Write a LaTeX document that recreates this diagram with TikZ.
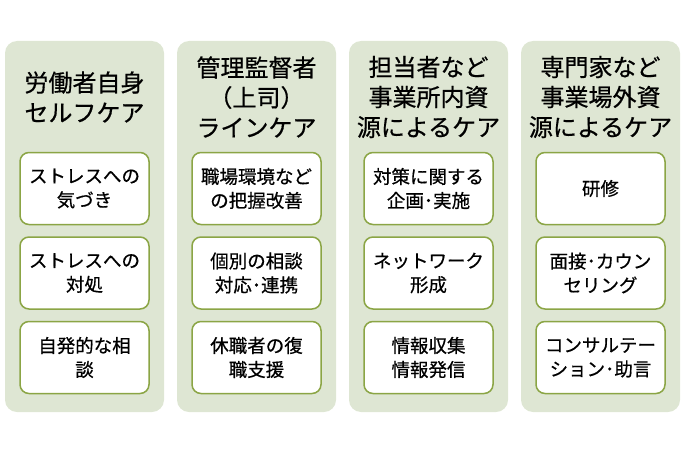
\documentclass[tikz,border=0pt]{standalone}
\usepackage{fontspec}
\setmainfont[FakeBold=0.6]{Noto Sans CJK JP}
\usepackage{xcolor}
\usepackage{tikz}

\definecolor{panelgreen}{HTML}{DEE6D3}
\definecolor{boxolive}{HTML}{8BA545}

\tikzset{
	panel/.style={fill=panelgreen, rounded corners=12pt},
	heading/.style={align=center, font=\fontsize{24}{30}\selectfont},
	carebox/.style={draw=boxolive, line width=1.5pt, fill=white, rounded corners=9pt,
		minimum width=129pt, minimum height=72pt, align=center,
		font=\fontsize{18.5}{24}\selectfont}
}

\begin{document}
\begin{tikzpicture}[x=1pt,y=-1pt]

\useasboundingbox (0,0) rectangle (690,460);

\foreach \i in {0,...,3}{
	\fill[panel] (5+172*\i,41) rectangle (164+172*\i,412);
}

\foreach \i/\t in {0/{労働者自身\\セルフケア},
		1/{管理監督者\\（上司）\\ラインケア},
		2/{担当者など\\事業所内資\\源によるケア},
		3/{専門家など\\事業場外資\\源によるケア}}
{
	\node[heading] (title\i) at (84.5+172*\i,97) {\t};
}

\foreach \i/\j/\t in {0/1/{ストレスへの\\気づき},
		0/2/{ストレスへの\\対処},
		0/3/{自発的な相\\談},
		1/1/{職場環境など\\の把握改善},
		1/2/{個別の相談\\対応･連携},
		1/3/{休職者の復\\職支援},
		2/1/{対策に関する\\企画･実施},
		2/2/{ネットワーク\\形成},
		2/3/{情報収集\\情報発信},
		3/1/{研修},
		3/2/{面接･カウン\\セリング},
		3/3/{コンサルテー\\ション･助言}}
{
	\node[carebox] (box\i\j) at (84.5+172*\i,104+84.5*\j) {\t};
}

\end{tikzpicture}
\end{document}
